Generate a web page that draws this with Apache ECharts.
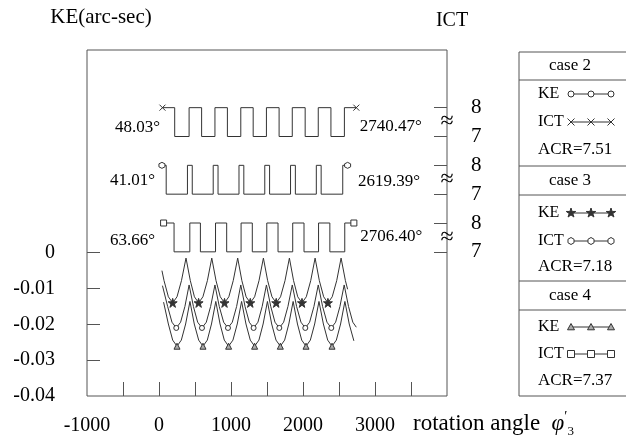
<!DOCTYPE html>
<html><head><meta charset="utf-8">
<script src="https://cdn.jsdelivr.net/npm/echarts@6/dist/echarts.min.js"></script>
<style>html,body{margin:0;padding:0;background:#fff}#c{width:626px;height:439px}</style>
</head><body><div id="c"></div>
<script>
const FONT = '"Liberation Serif","Times New Roman",serif';

// ---- axes ----
const angleLabels = [-1000, 0, 1000, 2000, 3000];
const angleTicks = [-500, 0, 500, 1000, 1500, 2000, 2500, 3000, 3500];
const keLabels = [0, -0.01, -0.02, -0.03, -0.04];
const keTicks = [0, -0.01, -0.02, -0.03];
const ictLabels = [7, 8];

// ---- cases ----
const caseNames = ['case 2', 'case 3', 'case 4'];
const acrValues = [7.51, 7.18, 7.37];
const startAngles = [48.03, 41.01, 63.66];
const endAngles = [2740.47, 2619.39, 2706.40];

// ---- KE curves [angle, KE arc-sec] ----
const keCase2 = [[48.03,-0.0092],[120,-0.0150],[180,-0.0194],[240,-0.0210],[300,-0.0194],[360,-0.0150],[418,-0.0090],[478,-0.0150],[537,-0.0194],[597,-0.0210],[657,-0.0194],[717,-0.0150],[777,-0.0090],[837,-0.0150],[898,-0.0194],[958,-0.0210],[1018,-0.0194],[1078,-0.0150],[1136,-0.0090],[1195,-0.0150],[1254,-0.0194],[1314,-0.0210],[1374,-0.0194],[1433,-0.0150],[1492,-0.0090],[1552,-0.0150],[1611,-0.0194],[1671,-0.0210],[1731,-0.0194],[1791,-0.0150],[1851,-0.0090],[1911,-0.0150],[1972,-0.0194],[2032,-0.0210],[2092,-0.0194],[2152,-0.0150],[2212,-0.0090],[2272,-0.0150],[2333,-0.0194],[2393,-0.0210],[2453,-0.0194],[2513,-0.0150],[2572,-0.0090],[2632,-0.0150],[2692,-0.0194],[2740.47,-0.0208]];
const keCase2Min = [240, 597, 958, 1314, 1671, 2032, 2393];

const keCase3 = [[41.01,-0.0050],[70,-0.0078],[130,-0.0123],[190,-0.0140],[250,-0.0123],[312,-0.0078],[375,-0.0015],[435,-0.0078],[492,-0.0123],[550,-0.0140],[610,-0.0123],[672,-0.0078],[733,-0.0015],[792,-0.0078],[851,-0.0123],[910,-0.0140],[970,-0.0123],[1031,-0.0078],[1093,-0.0015],[1151,-0.0078],[1210,-0.0123],[1268,-0.0140],[1328,-0.0123],[1389,-0.0078],[1450,-0.0015],[1509,-0.0078],[1569,-0.0123],[1628,-0.0140],[1688,-0.0123],[1750,-0.0078],[1811,-0.0015],[1869,-0.0078],[1927,-0.0123],[1986,-0.0140],[2046,-0.0123],[2107,-0.0078],[2168,-0.0015],[2227,-0.0078],[2287,-0.0123],[2346,-0.0140],[2406,-0.0123],[2468,-0.0078],[2529,-0.0015],[2589,-0.0078],[2619.39,-0.0102]];
const keCase3Min = [190, 550, 910, 1268, 1628, 1986, 2346];

const keCase4 = [[63.66,-0.0138],[130,-0.0199],[190,-0.0244],[250,-0.0261],[310,-0.0244],[370,-0.0199],[430,-0.0136],[490,-0.0199],[551,-0.0244],[611,-0.0261],[671,-0.0244],[729,-0.0199],[789,-0.0136],[848,-0.0199],[907,-0.0244],[967,-0.0261],[1027,-0.0244],[1087,-0.0199],[1147,-0.0136],[1208,-0.0199],[1268,-0.0244],[1328,-0.0261],[1388,-0.0244],[1446,-0.0199],[1506,-0.0136],[1565,-0.0199],[1625,-0.0244],[1685,-0.0261],[1745,-0.0244],[1803,-0.0199],[1863,-0.0136],[1923,-0.0199],[1982,-0.0244],[2042,-0.0261],[2102,-0.0244],[2162,-0.0199],[2222,-0.0136],[2283,-0.0199],[2343,-0.0244],[2403,-0.0261],[2463,-0.0244],[2522,-0.0199],[2582,-0.0136],[2642,-0.0199],[2706.40,-0.0246]];
const keCase4Min = [250, 611, 967, 1328, 1685, 2042, 2403];

// ---- ICT step signals [angle, ICT] (value holds until next point) ----
const ictCase2 = [[48.03,8],[218,7],[418,8],[592,7],[777,8],[950,7],[1136,8],[1308,7],[1492,8],[1668,7],[1851,8],[2030,7],[2212,8],[2388,7],[2575,8],[2740.47,8]];
const ictCase3 = [[41.01,8],[100,7],[395,8],[462,7],[753,8],[820,7],[1111,8],[1178,7],[1469,8],[1536,7],[1827,8],[1894,7],[2185,8],[2252,7],[2552,8],[2619.39,8]];
const ictCase4 = [[63.66,8],[209,7],[428,8],[575,7],[785,8],[940,7],[1140,8],[1296,7],[1497,8],[1653,7],[1857,8],[2014,7],[2216,8],[2373,7],[2580,8],[2706.40,8]];

// ---- symbols (unit shapes, used for series markers and legend) ----
const SYM = {
  circle: 'M0,-10A10,10,0,1,1,0,10A10,10,0,1,1,0,-10Z',
  star: 'M0,-10L2.24,-3.09L9.51,-3.09L3.63,1.18L5.88,8.09L0,3.82L-5.88,8.09L-3.63,1.18L-9.51,-3.09L-2.24,-3.09Z',
  triangle: 'M0,-10L10,8L-10,8Z',
  cross: 'M-10,-10L10,10M10,-10L-10,10',
  hex: 'M0,-10L8.66,-5L8.66,5L0,10L-8.66,5L-8.66,-5Z',
  square: 'M-10,-10L10,-10L10,10L-10,10Z'
};
const POLY = {
  star: [[0,-10],[2.24,-3.09],[9.51,-3.09],[3.63,1.18],[5.88,8.09],[0,3.82],[-5.88,8.09],[-3.63,1.18],[-9.51,-3.09],[-2.24,-3.09]],
  triangle: [[0,-10],[10,8],[-10,8]],
  hex: [[0,-10],[8.66,-5],[8.66,5],[0,10],[-8.66,5],[-8.66,-5]],
  square: [[-10,-10],[10,-10],[10,10],[-10,10]]
};
const INK = '#333';
const AX = '#555';
const keSym = [
  {sym: 'circle', size: 5, fill: '#fff'},
  {sym: 'star', size: 9, fill: INK},
  {sym: 'triangle', size: 6, fill: '#aaa'}
];
const ictSym = [
  {sym: 'cross', size: 6, fill: '#fff'},
  {sym: 'hex', size: 6, fill: '#fff'},
  {sym: 'square', size: 6, fill: '#fff'}
];

function keSeries(name, data, mins, s) {
  return {
    name, type: 'line', xAxisIndex: 0, yAxisIndex: 0, symbol: 'none', showSymbol: true,
    lineStyle: {color: INK, width: 1}, itemStyle: {color: INK}, silent: true,
    data: data.map(p => mins.includes(p[0]) ? {
      value: p, symbol: 'path://' + SYM[s.sym], symbolSize: s.size,
      itemStyle: {color: s.fill, borderColor: INK, borderWidth: 1}
    } : p)
  };
}
const labelOffsets = [
  [[6, 20], [-5, 19]],
  [[1.5, 15], [2, 16]],
  [[0, 18], [-2, 14]]
];
function ictSeries(name, data, axisIdx, k) {
  const s = ictSym[k];
  const last = data.length - 1;
  return {
    name, type: 'line', step: 'end', xAxisIndex: 0, yAxisIndex: axisIdx, symbol: 'none', showSymbol: true,
    lineStyle: {color: INK, width: 1}, itemStyle: {color: INK}, silent: true,
    data: data.map((p, i) => (i === 0 || i === last) ? {
      value: p, symbol: 'path://' + SYM[s.sym], symbolSize: s.size,
      itemStyle: {color: s.fill, borderColor: INK, borderWidth: 1},
      label: {
        show: true, position: i === 0 ? 'left' : 'right',
        offset: labelOffsets[k][i === 0 ? 0 : 1],
        formatter: (i === 0 ? startAngles[k] : endAngles[k]).toFixed(2) + '°',
        fontFamily: FONT, fontSize: 17, color: '#000'
      }
    } : p)
  };
}

function ictAxis(min, max, name) {
  return {
    type: 'value', position: 'right', min, max, gridIndex: 0,
    axisLine: {show: false, onZero: false}, splitLine: {show: false},
    axisTick: {show: true, inside: true, length: 13, customValues: ictLabels, lineStyle: {color: AX}},
    axisLabel: {show: true, customValues: ictLabels, margin: 24, fontSize: 21, fontFamily: FONT, color: '#000'},
    name: name, nameLocation: 'end', nameGap: 29,
    nameTextStyle: {fontFamily: FONT, fontSize: 20, color: '#000', verticalAlign: 'middle', align: 'center', padding: [0, 0, 0, 10]}
  };
}

const chart = echarts.init(document.getElementById('c'));
chart.setOption({
  animation: false,
  backgroundColor: '#fff',
  grid: {left: 87, top: 50, width: 360, height: 346, show: true, borderColor: AX, borderWidth: 1,
    containLabel: false, outerBoundsMode: 'none'},
  xAxis: {
    type: 'value', min: -1000, max: 4000,
    axisLine: {show: false, onZero: false}, splitLine: {show: false},
    axisTick: {show: true, inside: true, length: 14, customValues: angleTicks, lineStyle: {color: AX}},
    axisLabel: {show: true, customValues: angleLabels, margin: 20, fontSize: 20, fontFamily: FONT, color: '#000',
      formatter: v => String(v)},
    name: 'rotation angle  {phi|φ}{sup|′}{sub|3}', nameLocation: 'end', nameGap: -34,
    nameTextStyle: {
      fontFamily: FONT, fontSize: 23, color: '#000', align: 'left', verticalAlign: 'top',
      lineHeight: 28, padding: [14, 0, 0, 0],
      rich: {
        phi: {fontFamily: FONT, fontSize: 23, fontStyle: 'italic', color: '#000', lineHeight: 28},
        sup: {fontFamily: FONT, fontSize: 14, color: '#000', verticalAlign: 'top', lineHeight: 28},
        sub: {fontFamily: FONT, fontSize: 13, color: '#000', verticalAlign: 'bottom', lineHeight: 28}
      }
    }
  },
  yAxis: [
    {
      type: 'value', min: -0.04, max: 0.0566, position: 'left',
      axisLine: {show: false, onZero: false}, splitLine: {show: false},
      axisTick: {show: true, inside: true, length: 13, customValues: keTicks, lineStyle: {color: AX}},
      axisLabel: {show: true, customValues: keLabels, margin: 32, fontSize: 20, fontFamily: FONT, color: '#000',
        formatter: v => v === 0 ? '0' : String(v)},
      name: 'KE(arc-sec)', nameLocation: 'end', nameGap: 33,
      nameTextStyle: {fontFamily: FONT, fontSize: 21, color: '#000', verticalAlign: 'middle', align: 'center', padding: [0, 0, 0, 28]}
    },
    ictAxis(-2, 10, 'ICT'),
    ictAxis(0, 12, ''),
    ictAxis(2, 14, '')
  ],
  series: [
    keSeries('KE case 2', keCase2, keCase2Min, keSym[0]),
    keSeries('KE case 3', keCase3, keCase3Min, keSym[1]),
    keSeries('KE case 4', keCase4, keCase4Min, keSym[2]),
    ictSeries('ICT case 2', ictCase2, 1, 0),
    ictSeries('ICT case 3', ictCase3, 2, 1),
    ictSeries('ICT case 4', ictCase4, 3, 2)
  ]
});

// ---- decorations: axis breaks and the legend table ----
const g = [];
const xRight = chart.convertToPixel({xAxisIndex: 0}, 4000);
[1, 2, 3].forEach(ax => {
  const yb = chart.convertToPixel({yAxisIndex: ax}, 7.5);
  g.push({type: 'text', x: xRight, y: yb, z: 100,
    style: {text: '≈', font: '24px ' + FONT, fill: '#000', align: 'center', verticalAlign: 'middle'}});
});

const tL = 519, tT = 52, tR = 660, tB = 396;
const dividers = [80, 166, 195, 281, 310];
const headerY = [66, 180.5, 295.5];
const rowY = [[94, 122, 150], [213, 241, 267], [327, 354, 381]];
const textX = 538;
const symX = [571, 591, 611];
g.push({type: 'rect', shape: {x: tL, y: tT, width: tR - tL, height: tB - tT}, style: {fill: 'none', stroke: AX, lineWidth: 1}});
dividers.forEach(y => g.push({type: 'line', shape: {x1: tL, y1: y, x2: tR, y2: y}, style: {stroke: AX, lineWidth: 1}}));
const legFont = '16px ' + FONT;
const headFont = '17px ' + FONT;
function legendSymbol(s, cx, cy) {
  const r = (s.size + 1) / 2;
  const st = {fill: s.fill, stroke: INK, lineWidth: 1};
  if (s.sym === 'circle') return [{type: 'circle', z: 10, shape: {cx, cy, r}, style: st}];
  if (s.sym === 'cross') return [
    {type: 'line', z: 10, shape: {x1: cx - r, y1: cy - r, x2: cx + r, y2: cy + r}, style: {stroke: INK, lineWidth: 1}},
    {type: 'line', z: 10, shape: {x1: cx + r, y1: cy - r, x2: cx - r, y2: cy + r}, style: {stroke: INK, lineWidth: 1}}
  ];
  return [{type: 'polygon', z: 10, shape: {points: POLY[s.sym].map(p => [cx + p[0] * r / 10, cy + p[1] * r / 10])}, style: st}];
}
caseNames.forEach((nm, k) => {
  g.push({type: 'text', x: 570, y: headerY[k], style: {text: nm, font: headFont, fill: '#000', align: 'center', verticalAlign: 'middle'}});
  const rows = [['KE', keSym[k]], ['ICT', ictSym[k]]];
  rows.forEach((r, j) => {
    const y = rowY[k][j];
    g.push({type: 'text', x: textX, y, style: {text: r[0], font: legFont, fill: '#000', align: 'left', verticalAlign: 'middle'}});
    g.push({type: 'line', shape: {x1: symX[0], y1: y, x2: symX[2], y2: y}, style: {stroke: INK, lineWidth: 1}});
    symX.forEach(sx => legendSymbol(r[1], sx, y).forEach(e => g.push(e)));
  });
  g.push({type: 'text', x: textX, y: rowY[k][2], style: {text: 'ACR=' + acrValues[k].toFixed(2), font: headFont, fill: '#000', align: 'left', verticalAlign: 'middle'}});
});
chart.setOption({graphic: g});
</script></body></html>
